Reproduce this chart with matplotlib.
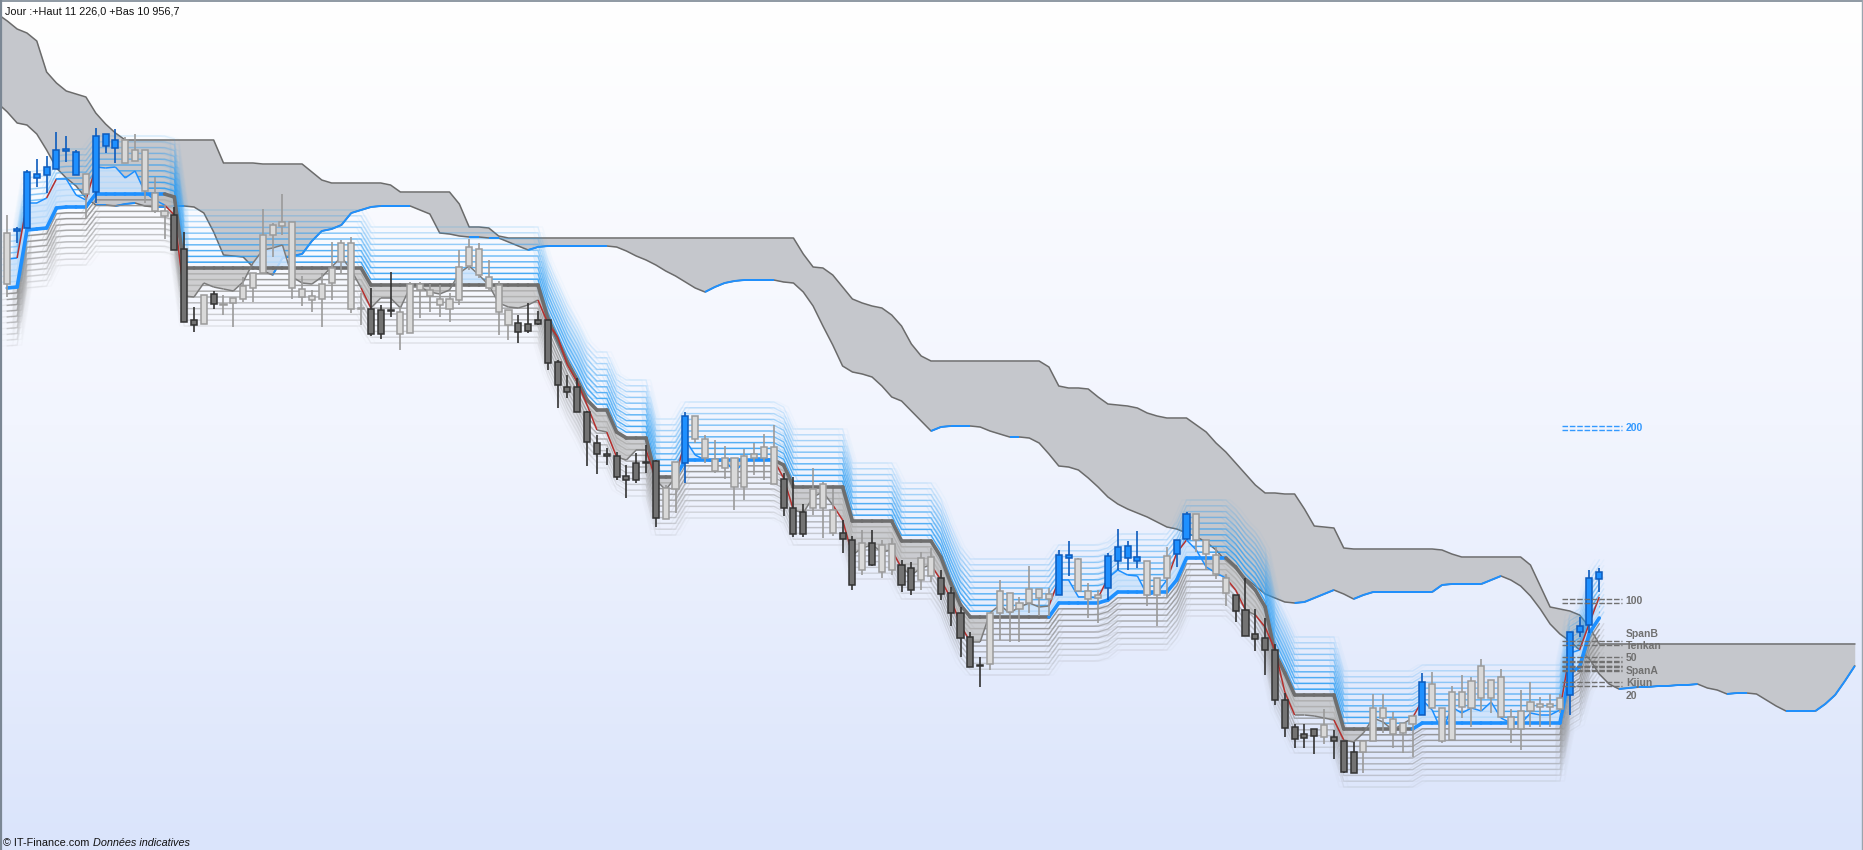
import numpy as np
import matplotlib.pyplot as plt
from matplotlib.collections import LineCollection
from matplotlib.colors import LinearSegmentedColormap

plt.rcParams['font.family'] = ['Liberation Sans', 'DejaVu Sans']

# daily candles (open / high / low / close)
opens = [
    11173.5, 11174.5, 11176, 11201, 11202.5, 11205.5, 11214.5, 11202.5, 11203, 11194,
    11217, 11216, 11220, 11215, 11215, 11193.5, 11184.5, 11182.5, 11165.5, 11130,
    11128, 11143, 11137.5, 11138.5, 11140.5, 11146, 11153.5, 11172.5, 11177, 11146,
    11141.5, 11140, 11140.5, 11148.5, 11159, 11135.5, 11135.5, 11135.5, 11135, 11135,
    11123, 11123.5, 11145, 11142, 11137.5, 11135.5, 11140, 11157, 11152.5, 11146,
    11134, 11127.5, 11128.5, 11128, 11130, 11130, 11109, 11096.5, 11096.5, 11084,
    11068.5, 11063, 11062, 11052, 11058.5, 11059, 11059.5, 11030.5, 11045.5, 11058.5,
    11082, 11070.5, 11060.5, 11061, 11061, 11062, 11063, 11066.5, 11066.5, 11050.5,
    11036, 11034, 11036, 11036, 11023.5, 11023.5, 11020, 11005, 11018.5, 11004,
    11005, 11007.5, 11006, 11000, 11002, 11001, 10993.5, 10983.5, 10971.5, 10957.5,
    10958, 10983.5, 10984, 10985.5, 10988.5, 10991, 10990.5, 10992.5, 11011, 11010.5,
    10994.5, 10992.5, 10996, 11009.5, 11011, 11009.5, 11009.5, 11001, 11012, 11013,
    11020.5, 11033, 11020, 11012.5, 11001, 10992.5, 10985, 10973, 10971, 10965,
    10940, 10926.5, 10923, 10925.5, 10921.5, 10921.5, 10919.5, 10914, 10914, 10919.5,
    10931, 10923, 10923.5, 10928, 10932.5, 10948, 10936, 10944, 10944, 10949.5,
    10957, 10950, 10951.5, 10931.5, 10934.5, 10939, 10938, 10938, 10941, 10942.5,
    10974, 10977.5, 11000.5]
highs = [
    11182.5, 11176.5, 11205, 11210.5, 11212, 11224, 11222, 11215, 11203, 11226,
    11223, 11225.5, 11221.5, 11223, 11215, 11201.5, 11187.5, 11186.5, 11174, 11136.5,
    11142.5, 11144.5, 11142.5, 11141, 11151.5, 11153.5, 11185.5, 11178.5, 11193, 11179,
    11152, 11145, 11153.5, 11169, 11170, 11171.5, 11143.5, 11146, 11137.5, 11154,
    11136.5, 11149, 11149, 11148, 11147.5, 11143.5, 11165, 11170.5, 11168.5, 11160,
    11149.5, 11135, 11132.5, 11138.5, 11134.5, 11130, 11110, 11102.5, 11101, 11084.5,
    11072.5, 11066, 11064, 11057.5, 11063.5, 11067.5, 11060, 11047.5, 11059, 11084,
    11082, 11072.5, 11070, 11067, 11061, 11065.5, 11068.5, 11073, 11077.5, 11053.5,
    11051.5, 11038, 11056, 11049, 11045.5, 11030, 11022, 11025, 11025, 11020,
    11021, 11010, 11009, 11014, 11016, 11005, 10996.5, 10986.5, 10974, 10961.5,
    10983.5, 11000, 10993.5, 10991.5, 11007, 10995.5, 10996, 11015, 11019.5, 11011,
    10998.5, 10995, 11013.5, 11025.5, 11019.5, 11024.5, 11009.5, 11001, 11016.5, 11020,
    11034, 11033, 11020, 11016.5, 11003, 10992.5, 11001, 10985.5, 10981, 10968,
    10943.5, 10928, 10928, 10925.5, 10935.5, 10925, 10919.5, 10919, 10919.5, 10943,
    10943, 10934, 10928.5, 10932, 10953.5, 10954, 10936, 10947, 10952.5, 10951.5,
    10960.5, 10950, 10955.5, 10935.5, 10945, 10949, 10941.5, 10943, 10943, 10974,
    10981.5, 11005, 11006]
lows = [
    11141.5, 11168.5, 11176, 11196.5, 11193.5, 11205.5, 11209, 11202.5, 11181, 11188.5,
    11213.5, 11208.5, 11208.5, 11209.5, 11188.5, 11183.5, 11170.5, 11165, 11129, 11124,
    11128, 11135.5, 11132.5, 11126.5, 11139, 11139, 11153.5, 11161.5, 11172.5, 11140.5,
    11137, 11134, 11126.5, 11140, 11153.5, 11133.5, 11127.5, 11122, 11120.5, 11131.5,
    11115, 11123.5, 11131, 11134, 11131.5, 11129, 11137.5, 11155, 11151, 11145,
    11122.5, 11120, 11118.5, 11123.5, 11127.5, 11105, 11086, 11091, 11084, 11057,
    11053, 11057.5, 11050, 11041, 11048.5, 11053.5, 11026.5, 11030.5, 11033.5, 11048.5,
    11068.5, 11058.5, 11053.5, 11050.5, 11035, 11040, 11052.5, 11050, 11048, 11032,
    11021.5, 11021.5, 11032.5, 11021, 11022, 11013.5, 10995, 11002.5, 11007, 11001,
    11002.5, 10994, 10992.5, 10995, 10999, 10990, 10977, 10961.5, 10956.5, 10946.5,
    10955, 10970, 10969, 10969, 10983.5, 10982, 10982, 10992.5, 11002, 10994.5,
    10981, 10978.5, 10990, 11005, 11005, 11006, 10987, 10977, 10991, 11006.5,
    11020, 11014, 11005.5, 11000.5, 10987, 10979, 10972, 10964.5, 10952.5, 10937.5,
    10921.5, 10916, 10916, 10913, 10918, 10910.5, 10903.5, 10903.5, 10903.5, 10919.5,
    10923.5, 10916, 10913.5, 10911.5, 10932.5, 10936, 10918.5, 10920, 10931, 10926.5,
    10934.5, 10933.5, 10931.5, 10918.5, 10915, 10926.5, 10926.5, 10926.5, 10933.5, 10932.5,
    10971.5, 10973.5, 10994]
closes = [
    11148, 11175.5, 11204, 11203, 11206.5, 11215, 11215.5, 11214, 11193, 11222,
    11223, 11220, 11208.5, 11209.5, 11194.5, 11184.5, 11182, 11165, 11129, 11127.5,
    11142.5, 11138, 11138, 11141, 11147, 11153.5, 11172.5, 11177.5, 11179, 11179,
    11145.5, 11142, 11148, 11156, 11168.5, 11168.5, 11136, 11123, 11123, 11134.5,
    11134, 11148, 11148, 11145, 11140.5, 11140.5, 11156.5, 11166.5, 11165.5, 11151.5,
    11147.5, 11135, 11124, 11124.5, 11128, 11108.5, 11097.5, 11094, 11084, 11069,
    11063, 11062, 11051.5, 11050, 11050, 11058.5, 11031, 11046, 11059, 11082,
    11070.5, 11061, 11054.5, 11056, 11046.5, 11046.5, 11061, 11061, 11048, 11036,
    11023, 11023, 11045.5, 11048, 11035, 11020.5, 10997.5, 11018.5, 11007.5, 11017.5,
    11018, 10997.5, 10995, 11011, 11011.5, 10993, 10983.5, 10971, 10956.5, 10957,
    10983.5, 10994.5, 10993.5, 10988.5, 10995.5, 10995.5, 10993, 11012.5, 11012.5, 10994.5,
    10990.5, 10991, 11012, 11016.5, 11017, 11011.5, 10992.5, 10992.5, 11001, 11020,
    11033, 11020, 11013, 11003, 10993.5, 10984.5, 10972, 10970.5, 10965, 10940,
    10926, 10920.5, 10921, 10922, 10927.5, 10919.5, 10904, 10903.5, 10919.5, 10936,
    10936, 10930.5, 10928.5, 10932, 10949, 10936, 10919.5, 10920, 10936.5, 10936,
    10941, 10941, 10931.5, 10925.5, 10925.5, 10934.5, 10936.5, 10936.5, 10935.5, 10974,
    10977, 11001, 11004]

# trend regime of the reference line: u = bullish, d = bearish
regime_runs = [('u', 17), ('d', 52), ('u', 10), ('d', 28), ('u', 18), ('d', 19), ('u', 19)]

# thick reference line
kijun = ([11146, 11146.5, 11175, 11175.5, 11176, 11186, 11186.5, 11186.5, 11186.5]
         + [11193] * 8 + [11191.5] + [11156] * 19 + [11147.5] * 18
         + [11131, 11120, 11109, 11100, 11090, 11085, 11085, 11074, 11071, 11071, 11071]
         + [11051.5] * 3 + [11060] * 10 + [11057.5] + [11046.5] * 6 + [11029.5] * 5
         + [11019.5] * 4 + [11011.5, 10998.5, 10987.5] + [10981.5] * 9 + [10988.5] * 5
         + [10990] + [10994] * 6 + [11000] + [11011] * 5
         + [11006.5, 11000, 10995, 10986.5, 10963.5, 10953.5] + [10942.5] * 5
         + [10925.5] * 8 + [10928.5] * 15 + [10953.5, 10956.5, 10973.5, 10981])

# thin signal line
signal = [
    11160.5, 11161, 11188.5, 11188.5, 11191, 11200.5, 11200.5, 11192.5, 11190, 11206.5,
    11206, 11206.5, 11201, 11204.5, 11194, 11190, 11187.5, 11182.5, 11142, 11141.5,
    11148.5, 11146.5, 11145.5, 11144.5, 11149, 11158.5, 11165, 11166, 11167.5, 11151.5,
    11148.5, 11148, 11151.5, 11156.5, 11161.5, 11155, 11146, 11136, 11141, 11141,
    11136, 11146.5, 11146.5, 11144, 11143, 11145, 11153.5, 11157, 11152.5, 11147.5,
    11138.5, 11136.5, 11136, 11137.5, 11140, 11128.5, 11121.5, 11107.5, 11099, 11087.5,
    11075, 11074, 11061.5, 11060, 11065, 11065, 11050, 11045, 11051.5, 11070,
    11062.5, 11060, 11059, 11060, 11054, 11059, 11061, 11061, 11060, 11051,
    11035, 11033.5, 11041.5, 11044, 11037.5, 11030, 11012.5, 11016, 11017.5, 11014,
    11015, 11006, 11002.5, 11006, 11007.5, 11000, 10991, 10977.5, 10969, 10969,
    10983.5, 10987.5, 10983.5, 10986.5, 10988.5, 10986.5, 10987, 11000, 11000, 10991.5,
    10991.5, 10991, 11001, 11005, 11002.5, 11002, 10992.5, 10993.5, 11000, 11013.5,
    11020, 11015, 11006.5, 11003.5, 11001, 10995, 10985, 10982.5, 10976.5, 10965,
    10944, 10932.5, 10932.5, 10932, 10931, 10930, 10920, 10919, 10923.5, 10931,
    10929, 10925, 10928, 10931, 10940, 10935, 10924, 10936.5, 10933.5, 10936,
    10934.5, 10939, 10931, 10928.5, 10928, 10933.5, 10932.5, 10932.5, 10935, 10963.5,
    10965, 10978.5, 10991.5]

# ichimoku cloud, from one bar before the first candle to 26 bars after the last
span_b = ([11283, 11279.5, 11275.5, 11273.5, 11269.5, 11254, 11248.5, 11244.5, 11243,
           11241.5, 11233.5, 11228, 11223.5]
          + [11220] * 10 + [11208.5] * 4 + [11208] * 5 + [11204, 11200]
          + [11198.5] * 6 + [11197.5] + [11194] * 6
          + [11188, 11176.5, 11176.5, 11176, 11172] + [11171] * 30
          + [11163, 11156.5, 11156, 11152.5, 11146.5, 11140.5, 11138.5, 11137, 11136,
             11132.5, 11127, 11118, 11112]
          + [11109.5] * 12
          + [11106.5, 11097, 11096, 11096, 11095.5, 11091.5, 11088, 11087.5, 11087,
             11086, 11083.5, 11082]
          + [11081] * 3
          + [11077.5, 11074, 11068.5, 11064, 11058.5, 11053, 11047.5, 11043.5, 11043.5,
             11043, 11043, 11035.5, 11027, 11026.5, 11026, 11016]
          + [11015.5] * 9 + [11015, 11013] + [11011.5] * 7
          + [11007.5, 10997, 10986.5, 10985.5, 10984.5, 10982.5, 10976.5]
          + [10968] * 27)
span_a = ([11238.5, 11234, 11228.5, 11227.5, 11223, 11215, 11206, 11201, 11197, 11191,
           11187.5, 11187.5, 11187, 11188, 11188.5, 11187, 11186.5, 11186.5, 11187, 11187,
           11186.5, 11183.5, 11174, 11162.5, 11162, 11161.5, 11156.5, 11154.5, 11152.5,
           11161, 11162, 11163, 11169.5, 11174.5, 11175.5, 11177.5, 11183.5, 11185, 11186.5]
          + [11187] * 4
          + [11185, 11183, 11173.5, 11173, 11172, 11171.5, 11171.5, 11171, 11171, 11169,
             11167, 11165, 11166.5]
          + [11167] * 7
          + [11166.5, 11164.5, 11162, 11160, 11157.5, 11154.5, 11152, 11149, 11146, 11144,
             11146.5, 11148.5, 11149.5]
          + [11150] * 4
          + [11149, 11148.5, 11144, 11137, 11127, 11117.5, 11107, 11104, 11103, 11101.5,
             11097, 11091.5, 11089.5, 11084.5, 11079.5, 11074.5, 11076.5]
          + [11077] * 3
          + [11076.5, 11074.5, 11073, 11071.5, 11071.5, 11071, 11068.5, 11063, 11057,
             11056.5, 11055, 11051, 11046.5, 11041.5, 11038, 11035.5, 11033.5, 11031.5,
             11029, 11026.5, 11025.5, 11023.5, 11021.5, 11019, 11015, 11009.5, 11005.5,
             11001, 10997, 10993, 10991, 10989, 10988.5, 10989, 10991, 10993, 10995,
             10993, 10990.5, 10992.5]
          + [10994] * 7 + [10997.5] + [10998] * 4
          + [11000, 11002, 11000, 10997, 10992, 10985.5, 10978, 10973, 10969.5, 10965,
             10960.5, 10953, 10948, 10945.5, 10946, 10946.5, 10946.5, 10947, 10947,
             10947.5, 10947.5, 10948, 10946, 10945, 10943, 10943.5, 10943.5, 10943,
             10940, 10937]
          + [10934.5] * 4 + [10938, 10942.5, 10949.5, 10957])

# levels listed at the right
level_names = ['200', '100', 'SpanB', 'Tenkan', '50', 'SpanA', 'Kijun', '20']
level_values = [11076, 10989.5, 10968.5, 10960.5, 10958, 10956, 10955.5, 10948]

BLUE = '#1e90ff'
DARK = '#6e6e6e'

o = np.array(opens)
h = np.array(highs)
l = np.array(lows)
c = np.array(closes)
kj = np.array(kijun)
sg = np.array(signal)
regime = ''.join(r * k for r, k in regime_runs)
n = len(o)
x = np.arange(n)
xc = np.arange(-1, n + 26)

x0, x1 = -0.743, 188.84
y0, y1 = 10865, 11290

fig = plt.figure(figsize=(18.63, 8.5), dpi=100)
ax = fig.add_axes([0, 0, 1, 1])
ax.set_xlim(x0, x1)
ax.set_ylim(y0, y1)
ax.axis('off')

# background gradient
bg = LinearSegmentedColormap.from_list('bg', ['#ffffff', '#f2f5fe', '#dae4fb'])
ax.imshow(np.linspace(0, 1, 256).reshape(-1, 1), extent=[x0, x1, y0, y1],
          aspect='auto', cmap=bg, origin='upper', zorder=0)

# cloud
sa = np.array(span_a)
sb = np.array(span_b)
ax.fill_between(xc, sa, sb, color='#c5c7cc', lw=0, zorder=1)
ax.plot(xc, sb, color='#6b6b6b', lw=1.1, zorder=2)
ax.plot(xc, sa, color='#6b6b6b', lw=1.1, zorder=2)
up_segs = [[(xc[k], sa[k]), (xc[k + 1], sa[k + 1])]
           for k in range(len(xc) - 1) if sa[k + 1] >= sa[k]]
ax.add_collection(LineCollection(up_segs, colors=BLUE, lw=1.4, zorder=2))

# fan of lines around the reference line
step = 2.9
for k in range(1, 11):
    a = 0.85 * (1 - (k - 1) / 10.5)
    for dx, f in [(0, 1.0), (-0.45, 0.25), (0.45, 0.25)]:
        ax.plot(x + dx, kj + k * step, color='#2a9df4', lw=1, alpha=a * f, zorder=3)
        ax.plot(x + dx, kj - k * step, color='#8a8a8a', lw=1, alpha=a * f, zorder=3)

# zone between the signal line and the reference line
ax.fill_between(x, sg, kj, where=sg >= kj, interpolate=True,
                color='#cde3fb', alpha=0.85, lw=0, zorder=4)
ax.fill_between(x, sg, kj, where=sg < kj, interpolate=True,
                color='#bdbdbd', alpha=0.7, lw=0, zorder=4)

# thick reference line, coloured by regime
segs = [[(k, kj[k]), (k + 1, kj[k + 1])] for k in range(n - 1)]
cols = [BLUE if regime[k + 1] == 'u' else DARK for k in range(n - 1)]
ax.add_collection(LineCollection(segs, colors=cols, lw=2.6, zorder=5,
                                 capstyle='round'))

# thin signal line: red on strong moves with the trend
segs = [[(k, sg[k]), (k + 1, sg[k + 1])] for k in range(n - 1)]
cols = []
for k in range(n - 1):
    d = sg[k + 1] - sg[k]
    up = c[k + 1] > o[k + 1]
    if regime[k + 1] == 'u' and up and d > 4:
        cols.append('#b5302e')
    elif regime[k + 1] == 'd' and not up and d < -4:
        cols.append('#b5302e')
    elif regime[k + 1] == 'u':
        cols.append(BLUE)
    else:
        cols.append('#7c7c7c')
ax.add_collection(LineCollection(segs, colors=cols, lw=1.1, zorder=6))

# candles
face, edge = [], []
for k in range(n):
    if regime[k] == 'u' and c[k] > o[k]:
        face.append(BLUE)
        edge.append('#0c5bbd')
    elif regime[k] == 'd' and c[k] < o[k]:
        face.append('#737373')
        edge.append('#333333')
    else:
        face.append('#d9d9d9')
        edge.append('#9a9a9a')
ax.vlines(x, l, h, colors=edge, lw=1.2, zorder=7)
body = np.maximum(np.abs(c - o), 0.7)
ax.bar(x, body, bottom=np.minimum(o, c), width=0.62, color=face,
       edgecolor=edge, linewidth=1.1, zorder=8)

# level markers (double dashes) at the right, labels spread so they stay readable
gap = 6.2
order = sorted(range(len(level_values)), key=lambda j: -level_values[j])
groups = []
for j in order:
    groups.append([j])
    while len(groups) > 1:
        g1, g2 = groups[-2], groups[-1]
        c1 = np.mean([level_values[i] for i in g1])
        c2 = np.mean([level_values[i] for i in g2])
        if (c1 - gap * (len(g1) - 1) / 2) - (c2 + gap * (len(g2) - 1) / 2) < gap:
            groups[-2:] = [g1 + g2]
        else:
            break
text_y = {}
for g in groups:
    cg = np.mean([level_values[i] for i in g])
    for idx, i in enumerate(g):
        text_y[i] = cg + gap * ((len(g) - 1) / 2 - idx)

for j, (name, v) in enumerate(zip(level_names, level_values)):
    col = '#3399ff' if name == '200' else '#707070'
    for dy in (0.8, -0.8):
        ax.plot([158.2, 164.3], [v + dy, v + dy], color=col, lw=1,
                dashes=(4, 1.3), zorder=9, solid_capstyle='butt')
    ax.text(164.7, text_y[j], name, fontsize=7.5, fontweight='bold',
            color=col, va='center', ha='left', zorder=9)

# header and footer
fig.text(5 / 1863, 1 - 11 / 850, 'Jour :+Haut 11 226,0 +Bas 10 956,7',
         fontsize=7.8, color='#111111', va='center', ha='left')
fig.text(3 / 1863, 7 / 850, '\u00a9 IT-Finance.com', fontsize=7.8,
         color='#111111', va='center', ha='left')
fig.text(93 / 1863, 7 / 850, 'Donn\u00e9es indicatives', fontsize=7.8,
         color='#111111', va='center', ha='left', style='italic')

# frame
fig.add_artist(plt.Line2D([0.0006, 0.0006], [0, 1], transform=fig.transFigure,
                          color='#7b8794', lw=1.6))
fig.add_artist(plt.Line2D([0, 1], [0.9994, 0.9994], transform=fig.transFigure,
                          color='#7b8794', lw=1.2))
fig.add_artist(plt.Line2D([0.9995, 0.9995], [0, 1], transform=fig.transFigure,
                          color='#9aa4ae', lw=1.0))

fig.savefig('out.png', dpi=100)
